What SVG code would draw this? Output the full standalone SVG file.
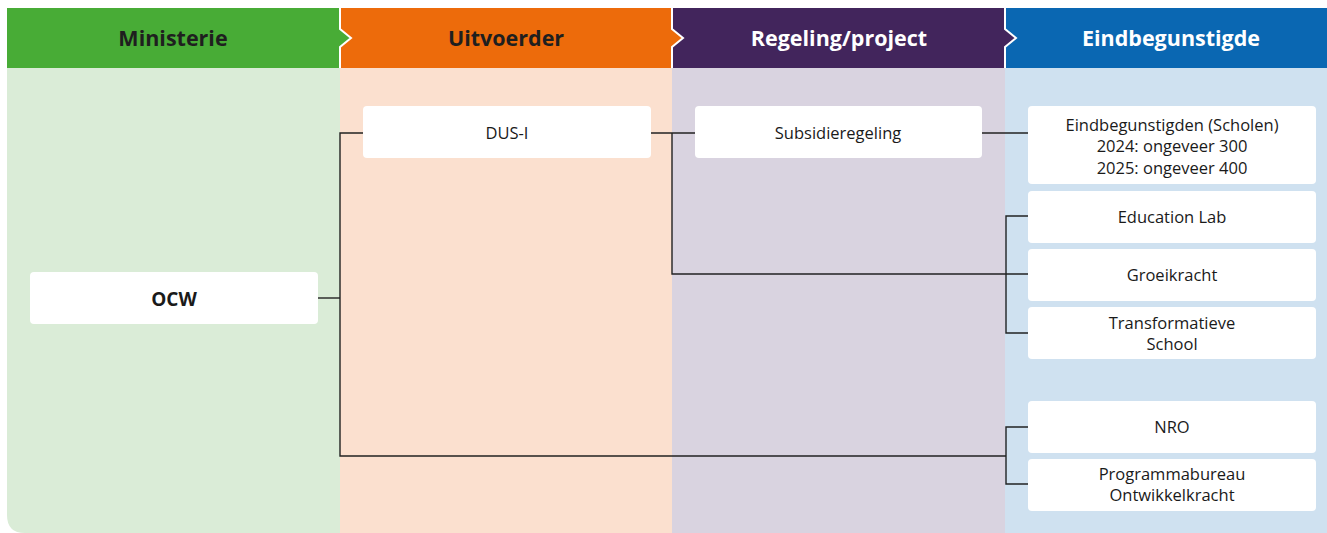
<svg xmlns="http://www.w3.org/2000/svg" width="1327" height="533" viewBox="0 0 1327 533">
<style>
.hd{font-family:"Open Sans","Liberation Sans",sans-serif;font-weight:700;font-size:21.5px;text-anchor:middle}
.box{fill:#ffffff}
.t{font-family:"Open Sans","Liberation Sans",sans-serif;font-size:16.5px;fill:#1a1a1a;text-anchor:middle}
.tb{font-family:"Open Sans","Liberation Sans",sans-serif;font-size:19px;font-weight:700;fill:#1a1a1a;text-anchor:middle}
.ln{fill:none;stroke:#222;stroke-width:1.4}
.sep{fill:none;stroke:#fff;stroke-width:2}
</style>
<rect width="1327" height="533" fill="#ffffff"/>
<g id="columns">
<path d="M7,68 H340 V533 H25 Q7,533 7,515 Z" fill="#daecd7"/>
<rect x="340" y="68" width="332" height="465" fill="#fbe0cf"/>
<rect x="672" y="68" width="333" height="465" fill="#d9d3e0"/>
<rect x="1005" y="68" width="322" height="465" fill="#cfe1f0"/>
<path d="M340,8 H672 V29 L683,38 L672,47 V68 H340 V47 L351,38 L340,29 Z" fill="#ed6b0b"/>
<path d="M672,8 H1005 V29 L1016,38 L1005,47 V68 H672 V47 L683,38 L672,29 Z" fill="#42255c"/>
<path d="M1005,8 H1327 V68 H1005 V47 L1016,38 L1005,29 Z" fill="#0a67b2"/>
<path d="M7,8 H340 V29 L351,38 L340,47 V68 H7 Z" fill="#48ac36"/>
<path class="sep" d="M340,8 V29 L351,38 L340,47 V68"/>
<path class="sep" d="M672,8 V29 L683,38 L672,47 V68"/>
<path class="sep" d="M1005,8 V29 L1016,38 L1005,47 V68"/>
<text class="hd" x="173" y="46" fill="#1f1f1f">Ministerie</text>
<text class="hd" x="506" y="46" fill="#1f1f1f">Uitvoerder</text>
<text class="hd" x="839" y="46" fill="#ffffff">Regeling/project</text>
<text class="hd" x="1171" y="46" fill="#ffffff">Eindbegunstigde</text>
</g>
<g id="connectors">
<path class="ln" d="M318,298 H340"/>
<path class="ln" d="M363,133 H340 V456 H1006"/>
<path class="ln" d="M651,133 H695"/>
<path class="ln" d="M672,133 V274 H1028"/>
<path class="ln" d="M982,133 H1028"/>
<path class="ln" d="M1028,216 H1006 V333 H1028"/>
<path class="ln" d="M1028,427 H1006 V484 H1028"/>
</g>
<g id="ocw"><rect class="box" x="30" y="272" width="288" height="52" rx="4"/><text class="tb" x="174" y="306">OCW</text></g>
<g id="dusi"><rect class="box" x="363" y="106" width="288" height="52" rx="4"/><text class="t" x="507" y="139">DUS-I</text></g>
<g id="subsidieregeling"><rect class="box" x="695" y="106" width="287" height="52" rx="4"/><text class="t" x="838" y="139">Subsidieregeling</text></g>
<g id="eindbegunstigden"><rect class="box" x="1028" y="106" width="288" height="78" rx="4"/><text class="t" x="1172" y="131">Eindbegunstigden (Scholen)</text><text class="t" x="1172" y="152">2024: ongeveer 300</text><text class="t" x="1172" y="174">2025: ongeveer 400</text></g>
<g id="educationlab"><rect class="box" x="1028" y="191" width="288" height="52" rx="4"/><text class="t" x="1172" y="223">Education Lab</text></g>
<g id="groeikracht"><rect class="box" x="1028" y="249" width="288" height="52" rx="4"/><text class="t" x="1172" y="281">Groeikracht</text></g>
<g id="transformatieve"><rect class="box" x="1028" y="307" width="288" height="52" rx="4"/><text class="t" x="1172" y="329">Transformatieve</text><text class="t" x="1172" y="350">School</text></g>
<g id="nro"><rect class="box" x="1028" y="401" width="288" height="52" rx="4"/><text class="t" x="1172" y="433">NRO</text></g>
<g id="programmabureau"><rect class="box" x="1028" y="459" width="288" height="52" rx="4"/><text class="t" x="1172" y="480">Programmabureau</text><text class="t" x="1172" y="501">Ontwikkelkracht</text></g>
</svg>
